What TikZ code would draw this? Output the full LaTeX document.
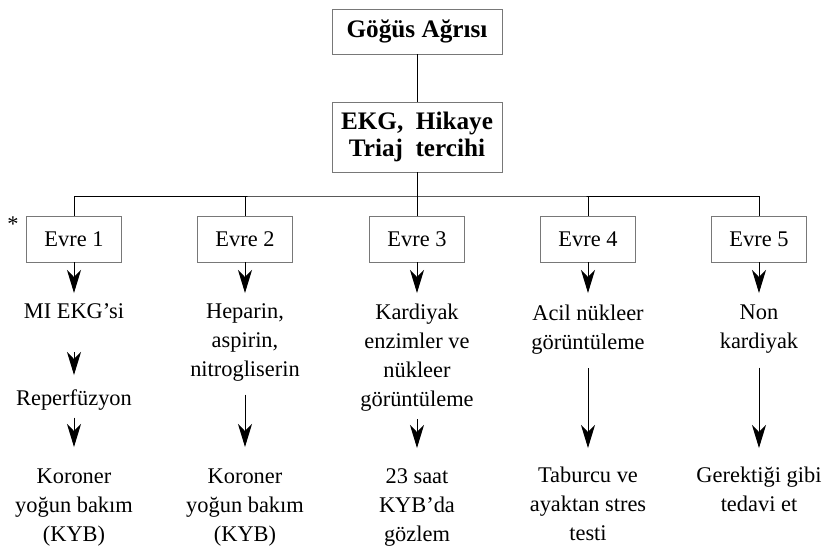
\documentclass[tikz,border=0pt]{standalone}
\usepackage{fontspec}
\setmainfont{Liberation Serif}
\usepackage{xcolor}
\usetikzlibrary{arrows.meta,positioning,calc}
\definecolor{boxgray}{RGB}{120,120,120}

\begin{document}
\begin{tikzpicture}[x=.5pt,y=-.5pt,>={Stealth[length=11.5pt,width=7pt,inset=3.5pt]},
  every node/.style={font=\fontsize{11.2}{14.5}\selectfont,inner sep=0pt,outer sep=0pt},
  topbox/.style={draw=boxgray,line width=.5pt,minimum width=85pt,align=center,font=\fontsize{12.6}{13.5}\selectfont\bfseries},
  evrebox/.style={draw=boxgray,line width=.5pt,minimum width=47.5pt,minimum height=23pt},
  stagetext/.style={anchor=north,align=center},
  link/.style={line width=.5pt},
  flow/.style={->,line width=.5pt}]
\useasboundingbox (0,0) rectangle (827,547);
\node[topbox,minimum height=22.5pt] (gogus) at (417,31.5) {Göğüs Ağrısı};
\node[topbox,minimum height=35pt] (ekg) at (417,137) {EKG,~~Hikaye\\Triaj~~tercihi};
\coordinate (bus) at (417,196);
\node[evrebox] (e1) at (74,239) {Evre 1};
\node[evrebox] (e2) at (245,239) {Evre 2};
\node[evrebox] (e3) at (417,239) {Evre 3};
\node[evrebox] (e4) at (588,239) {Evre 4};
\node[evrebox] (e5) at (759,239) {Evre 5};
\node (star) at (13,224) {*};
\node[stagetext] (mi) at (74,304) {MI EKG'si};
\node[stagetext] (rep) at (74,390) {Reperfüzyon};
\node[stagetext] (kor1) at (74,469) {Koroner\\yoğun bakım\\(KYB)};
\node[stagetext] (hep) at (245,304) {Heparin,\\aspirin,\\nitrogliserin};
\node[stagetext] (kor2) at (245,469) {Koroner\\yoğun bakım\\(KYB)};
\node[stagetext] (kard) at (417,304) {Kardiyak\\enzimler ve\\nükleer\\görüntüleme};
\node[stagetext] (saat) at (417,469) {23 saat\\KYB'da\\gözlem};
\node[stagetext] (acil) at (588,305) {Acil nükleer\\görüntüleme};
\node[stagetext] (tab) at (588,467) {Taburcu ve\\ayaktan stres\\testi};
\node[stagetext] (non) at (759,305) {Non\\kardiyak};
\node[stagetext] (ger) at (759,467) {Gerektiği gibi\\tedavi et};
\draw[link] (gogus) -- (ekg);
\draw[link] (ekg) -- (bus);
\draw[link] (e1.north) |- (bus) -| (e5.north);
\foreach \n in {e2,e3,e4}
  \draw[link] (\n.north) -- (\n.north |- bus);
\draw[flow,shorten >=5.5pt] (e1.south) -- (mi.north);
\draw[flow,shorten <=16.5pt,shorten >=7.5pt] (mi.south) -- (rep.north);
\draw[flow,shorten <=3.5pt,shorten >=11pt] (rep.south) -- (kor1.north);
\draw[flow,shorten >=5.5pt] (e2.south) -- (hep.north);
\draw[flow,shorten <=6.5pt,shorten >=11pt] (hep.south) -- (kor2.north);
\draw[flow,shorten >=5.5pt] (e3.south) -- (kard.north);
\draw[flow,shorten <=4pt,shorten >=10.5pt] (kard.south) -- (saat.north);
\draw[flow,shorten >=6pt] (e4.south) -- (acil.north);
\draw[flow,shorten <=7pt,shorten >=9.5pt] (acil.south) -- (tab.north);
\draw[flow,shorten >=6pt] (e5.south) -- (non.north);
\draw[flow,shorten <=7pt,shorten >=9.5pt] (non.south) -- (ger.north);
\end{tikzpicture}
\end{document}
